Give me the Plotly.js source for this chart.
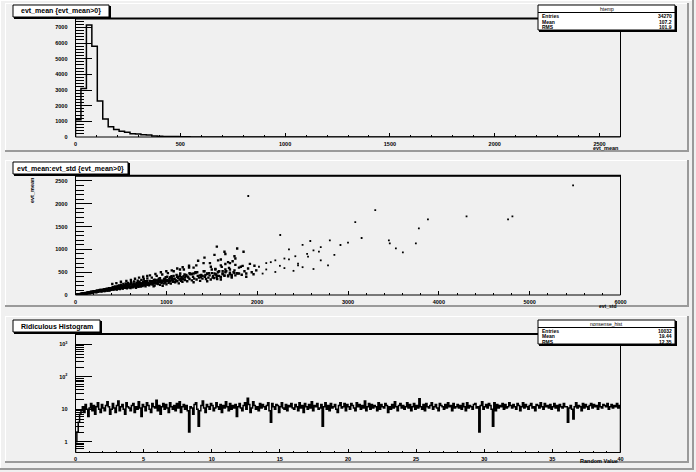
<!DOCTYPE html>
<html><head><meta charset="utf-8">
<script src="https://cdn.plot.ly/plotly-3.0.1.min.js"></script>
<style>html,body{margin:0;padding:0;background:#f0f0f0;} #chart{width:696px;height:472px;}</style>
</head><body><div id="chart"></div>
<script>
// ---------- DATA ----------
// Pad 1: evt_mean histogram (100 bins, 0..2600)
const meanHistLow = 0;
const meanHistWidth = 26;
const meanHistCounts = [1100,3100,7150,5800,2300,1150,650,480,360,300,
  200,190,140,120,70,45,35,30,25,18,
  8,6,5,4,3,2,2,1,1,1,
  0,0,0,0,0,0,0,0,0,0, 0,0,0,0,0,0,0,0,0,0,
  0,0,0,0,0,0,0,0,0,0, 0,0,0,0,0,0,0,0,0,0,
  0,0,0,0,0,0,0,0,0,0, 0,0,0,0,0,0,0,0,0,0,
  0,0,0,0,0,0,0,0,0,0];
const statsLabels = ['Entries','Mean','RMS'];
const meanStatsValues = ['34270','107.2','101.9'];

// Pad 2: evt_mean vs evt_std scatter
const std1 = [8,15,22,27,33,41,46,52,58,63,69,74,81,87,93,98,104,111,117,122,128,135,141,147,152,158,165,171,176,183,189,195,201,208,214,221,227,233,240,246,252,259,266,272,279,285,292,298,305,312,318,325,331,338,345,352,360,368,377,390];
const mean1 = [4,9,6,12,14,11,19,16,24,18,27,22,30,25,38,29,35,44,33,40,52,37,48,58,45,55,62,50,68,57,74,60,66,85,71,79,62,92,75,88,70,101,84,95,110,78,102,90,118,98,125,86,112,130,104,140,96,122,150,115];
const std2 = [402,408,415,421,428,434,441,447,455,461,468,474,481,488,494,501,507,514,520,527,534,540,547,553,560,566,573,580,586,593,600,606,613,619,626,633,639,646,652,659,666,672,679,685,692,699,705,712,718,725,731,738,745,751,758,764,771,778,784,791,797,405,450,500,560,610,655,700,745,790];
const mean2 = [140,118,172,128,155,190,136,165,122,200,148,178,210,131,160,226,152,188,140,240,171,205,158,252,182,146,218,265,168,196,232,155,280,184,214,170,248,296,192,226,160,265,205,312,178,240,290,214,186,330,256,198,228,350,210,275,192,240,300,365,222,240,260,290,310,330,355,380,400,420];
const std3 = [803,810,818,825,833,840,848,856,863,871,878,886,894,901,909,917,924,932,940,947,955,963,970,978,986,993,1001,1009,1017,1025,1033,1041,1049,1057,1065,1073,1081,1089,1097,1105,1113,1121,1129,1137,1145,1153,1161,1169,1177,1185,1193,820,880,940,1000,1060,1120,1180,860,960];
const mean3 = [260,215,310,238,285,380,230,268,330,205,298,250,420,275,240,355,290,225,318,265,450,300,250,340,280,390,232,310,480,270,345,300,250,410,330,290,520,360,280,320,440,300,370,255,340,470,310,390,290,350,560,430,460,500,520,540,580,610,190,200];
const std4 = [1205,1218,1230,1243,1255,1268,1281,1294,1307,1320,1333,1346,1359,1372,1385,1398,1411,1424,1437,1450,1463,1476,1489,1502,1515,1528,1541,1554,1567,1580,1600,1620,1640,1660,1680,1700,1720,1740,1760,1780,1250,1330,1410,1490,1570,1650,1730,1300,1450,1600];
const mean4 = [330,420,300,380,350,460,320,400,360,500,340,420,380,310,440,360,520,400,350,460,380,430,340,480,410,370,450,400,500,420,390,470,430,520,410,460,440,500,430,480,600,650,700,620,760,680,740,280,300,340];
const std5 = [620,140,880,350,45,990,470,260,760,1130,90,580,310,690,420,930,200,1050,520,830,380,160,720,275,640,1180,495,60,905,330,785,230,560,1010,410,120,670,860,295,540,965,180,745,450,1090,85,600,375,815,250,700,1150,130,525,940,345,660,210,1030,480,
  590,875,305,735,1160,155,455,1060,365,805,240,630,985,110,515,700,290,1110,430,850,195,575,920,340,760,1200,470,65,650,390];
const mean5 = [175,52,330,118,15,275,170,95,230,390,22,205,88,260,120,370,70,320,145,300,140,38,200,105,240,360,190,24,260,125,280,60,165,400,155,40,190,250,112,210,310,62,270,130,350,30,180,100,240,80,225,430,46,180,290,98,230,78,300,150,
  220,280,100,245,340,50,160,380,130,260,92,200,345,35,170,190,85,310,142,300,66,185,330,112,300,450,140,18,215,115];
const std6 = [1510,1530,1560,1580,1600,1620,1650,1680,1700,1720,1750,1780,1800,1830,1860,1880,1900,1940,1970,1990,
  1540,1610,1690,1760,1840,1920,1560,1640,1720,1800,1880,1960,1556,1650,1760,1850,
  1300,1350,1420,1480,1530,1600,1640,1700,1750,1780,1150,1250,1600,1680];
const mean6 = [380,470,420,520,395,455,560,430,490,410,540,470,600,445,520,470,580,500,640,540,
  572,616,594,660,638,682,350,420,380,470,400,455,1060,900,800,950,
  600,750,820,700,880,780,950,700,850,1020,560,640,650,720];
const std8 = [260,515,780,1040,330,610,905,1220,420,690,980,1300,205,470,745,1010,1370,300,560,835,1120,1420,380,650,925,1190,1470,245,505,790,1065,1340,440,715,990,1260,1550,285,575,860,1150,1430,355,635,915,1205,1500,225,490,770,1045,1320,405,680,955,1235,1580,315,595,875,1160,1450,
  370,545,725,895,1075,1255,1400,1620,1700,1650,1750,1820,1540,1380,1280,1180,1080,970,870,770,670,570,470,370,270,170];
const mean8 = [90,200,240,380,120,250,300,440,160,215,360,470,80,175,290,330,430,105,230,250,400,520,150,195,340,410,480,72,160,310,350,500,130,260,305,460,450,95,210,270,410,440,125,180,330,380,560,85,190,225,390,480,160,240,290,400,520,110,170,330,360,470,
  110,190,250,320,300,480,420,520,560,500,480,620,560,390,460,350,420,330,280,300,200,230,190,150,110,70];
const std9 = [10,18,26,34,42,50,58,66,74,82,90,98,106,114,122,130,138,146,154,162,170,178,186,194];
const mean9 = [3,7,8,13,12,19,17,24,22,30,27,36,33,40,38,47,42,53,50,58,55,64,60,70];
// sparse high-std points
const stdSparse = [2020,2060,2100,2150,2200,2250,2300,2350,2400,2450,2500,2560,2620,2700,2780,2850,
  2100,2200,2300,2420,2550,2680,2254,2585,2917,3080,3300,2450,2700,2800,3000,3150,1902,2350,2500,2620,
  3450,3460,3527,3604,3747,3780,3880,4305,4762,4810,5478];
const meanSparse = [620,470,560,720,505,640,590,780,530,690,610,840,570,760,650,880,
  700,760,800,850,900,950,1316,1184,1096,1600,1860,650,1050,1200,1150,1250,2171,1000,1100,980,
  1200,1134,1024,936,1134,1462,1660,1725,1660,1725,2405];

// Pad 3: Ridiculous Histogram (400 bins, 0..40)
const randHistLow = 0;
const randHistWidth = 0.1;
const randHistCounts = [
 1,2,4,7,9,12,8,14,10,6,11,15,9,13,7,12,16,10,8,14,11,9,13,17,12,7,10,15,11,8,13,18,9,12,14,10,7,16,12,11,
 9,13,15,8,12,10,17,11,6,14,12,9,16,13,10,8,15,12,11,19,9,13,7,12,15,10,14,11,8,16,12,10,13,9,15,11,17,8,12,14,
 10,13,9,2,12,11,7,14,16,10,3,9,13,18,11,8,14,12,10,15,13,9,11,16,12,10,14,8,13,11,17,12,9,15,10,13,11,14,6,12,
 15,11,9,13,16,10,22,14,8,11,17,13,10,12,9,15,11,14,12,10,13,16,9,4,15,12,10,14,13,8,12,16,11,10,14,9,13,12,15,11,
 10,14,12,9,16,11,13,8,15,12,10,14,11,17,9,13,12,15,10,11,14,3,12,16,10,13,9,15,11,12,14,10,8,13,16,11,12,15,9,14,
 12,10,15,13,11,9,16,12,14,10,13,11,18,9,12,15,10,14,11,13,12,9,16,10,14,12,11,15,13,8,12,10,14,11,17,12,9,13,15,11,
 13,10,12,16,11,14,9,12,15,10,13,11,21,12,10,14,9,15,12,11,13,16,10,12,14,11,9,15,13,12,10,14,11,16,12,13,9,15,11,12,
 14,11,13,10,15,12,9,16,11,13,12,10,14,15,11,12,2,13,17,10,12,14,11,15,13,10,3,16,9,14,11,13,12,15,10,14,11,12,16,13,
 11,14,12,10,15,13,9,12,16,11,14,12,10,13,15,11,12,9,14,13,11,16,12,10,15,12,13,11,14,10,12,15,11,13,9,14,12,11,15,12,
 12,4,11,13,10,5,12,16,11,13,12,9,15,11,14,12,10,13,15,11,14,12,13,10,16,12,11,14,13,12,15,10,12,14,11,13,12,15,11,13];
const randStatsValues = ['10032','19.44','12.35'];
const logTickVals = [1,10,100,1000];
const logTickText = ['1','10','10<sup>2</sup>','10<sup>3</sup>'];

// ---------- DRAWING ----------
const W=696,H=472;
const X=v=>v/W, Y=v=>1-v/H;

function outline(low,width,counts,floor){
  const xs=[low], ys=[floor];
  counts.forEach((c,i)=>{xs.push(low+i*width); ys.push(c);});
  xs.push(low+counts.length*width); ys.push(counts[counts.length-1]);
  xs.push(low+counts.length*width); ys.push(floor);
  return {xs,ys};
}
const h1=outline(meanHistLow,meanHistWidth,meanHistCounts,0);
const h3=outline(randHistLow,randHistWidth,randHistCounts,0.3);

const scX=[].concat(std1,std2,std3,std4,std5,std6,std8,std9);
const scY=[].concat(mean1,mean2,mean3,mean4,mean5,mean6,mean8,mean9);

const traces=[
 {x:h1.xs,y:h1.ys,xaxis:'x',yaxis:'y',mode:'lines',line:{shape:'hv',color:'#000',width:1.5},hoverinfo:'skip'},
 {x:scX,y:scY,xaxis:'x2',yaxis:'y2',mode:'markers',marker:{symbol:'square',size:2.4,color:'#000',line:{width:0}},hoverinfo:'skip'},
 {x:stdSparse,y:meanSparse,xaxis:'x2',yaxis:'y2',mode:'markers',marker:{symbol:'square',size:1.8,color:'#000',line:{width:0}},hoverinfo:'skip'},
 {x:h3.xs,y:h3.ys,xaxis:'x3',yaxis:'y3',mode:'lines',line:{shape:'hv',color:'#000',width:1.5},hoverinfo:'skip'}
];

const FONT='Liberation Sans, Arial, sans-serif';
const tickfont={family:FONT,size:5.5,color:'#000',weight:'bold'};
const small={family:FONT,size:5.5,color:'#000',weight:'bold'};
const frameL=75.5, frameR=620.5;
const frames=[[18.5,137],[175.7,295],[334,452.5]];
function xa(i,range,dtick,minorD){
  return {domain:[X(frameL),X(frameR)],anchor:'y'+(i>1?i:''),range:range,dtick:dtick,tick0:0,
    showgrid:false,zeroline:false,showline:false,ticks:'inside',ticklen:4,tickwidth:1,tickcolor:'#000',
    tickfont:tickfont,ticklabelstandoff:2,fixedrange:true,
    minor:{ticks:'inside',ticklen:2,tickwidth:1,tickcolor:'#000',dtick:minorD,showgrid:false}};
}
function ya(i,range,dtick,minorD){
  return {domain:[Y(frames[i-1][1]),Y(frames[i-1][0])],anchor:'x'+(i>1?i:''),range:range,dtick:dtick,tick0:0,
    showgrid:false,zeroline:false,showline:false,ticks:'inside',ticklen:16,tickwidth:1,tickcolor:'#000',
    tickfont:tickfont,ticklabelstandoff:7,fixedrange:true,
    minor:{ticks:'inside',ticklen:8,tickwidth:1,tickcolor:'#000',dtick:minorD,showgrid:false}};
}
const y3=ya(3,[-0.33,3.32],null,null);
y3.type='log'; delete y3.dtick; delete y3.tick0;
y3.tickmode='array'; y3.tickvals=logTickVals; y3.ticktext=logTickText;
y3.minor={ticks:'inside',ticklen:8,tickwidth:1,tickcolor:'#000',showgrid:false,tickmode:'array',
  tickvals:[0.5,0.6,0.7,0.8,0.9,2,3,4,5,6,7,8,9,20,30,40,50,60,70,80,90,200,300,400,500,600,700,800,900,2000]};

const shapes=[];
const ann=[];
function line(x0,y0,x1,y1,color,w,layer){shapes.push({type:'line',xref:'paper',yref:'paper',x0:X(x0),y0:Y(y0),x1:X(x1),y1:Y(y1),line:{color:color,width:w},layer:layer||'above'});}
function rect(x0,y0,x1,y1,fill,lc,lw,layer){shapes.push({type:'rect',xref:'paper',yref:'paper',x0:X(x0),y0:Y(y0),x1:X(x1),y1:Y(y1),fillcolor:fill,line:{color:lc,width:lw},layer:layer||'above'});}
function text(x,y,t,opt){ann.push(Object.assign({xref:'paper',yref:'paper',x:X(x),y:Y(y),text:t,showarrow:false,
  font:small,xanchor:'center',yanchor:'middle',borderpad:0},opt||{}));}

// canvas bevel
line(0,0.5,694,0.5,'#ffffff',1,'below');
line(0.5,0,0.5,470,'#ffffff',1,'below');
line(693,0,693,470,'#9a9a9a',2,'below');
line(0,469,694,469,'#9a9a9a',2,'below');
// pads
const pads=[[3,151],[160,306],[316,462]];
pads.forEach(p=>{
  rect(5,p[0],689,p[1],'#f0f0f0','rgba(0,0,0,0)',0,'below');
  line(5,p[0]+0.5,689,p[0]+0.5,'#ffffff',1,'below');
  line(5.5,p[0],5.5,p[1],'#ffffff',1,'below');
  line(688,p[0],688,p[1]+1,'#9a9a9a',2,'below');
  line(5,p[1],689,p[1],'#9a9a9a',2,'below');
});
// frames
frames.forEach(f=>{
  rect(frameL,f[0],frameR,f[1],'rgba(0,0,0,0)','#000',1);
  line(frameL-0.5,f[0],frameR+0.5,f[0],'#000',2);
});
// title boxes
function pave(x0,y0,x1,y1,t){
  rect(x0,y0,x1,y1,'#ffffff','#000',1);
  line(x0+1,y1+1,x1+1,y1+1,'#000',2);
  line(x1+1,y0+1,x1+1,y1+2,'#000',2);
  text((x0+x1)/2,(y0+y1)/2+0.5,t,{font:{family:FONT,size:7,color:'#000',weight:'bold'}});
}
pave(13,5,109,17,'evt_mean {evt_mean>0}');
pave(13,162,128,174,'evt_mean:evt_std {evt_mean>0}');
pave(13,320,100,332,'Ridiculous Histogram');
// stats boxes
function stats(y0,y1,name,vals){
  rect(538,y0,675,y1,'#ffffff','#000',1);
  line(539,y1+1,676,y1+1,'#000',2);
  line(676,y0+1,676,y1+2,'#000',2);
  const sep=y0+7.5;
  line(538,sep,675,sep,'#000',1);
  text(606.5,y0+3.9,name,{font:{family:FONT,size:5,color:'#000'}});
  const step=(y1-sep)/3;
  statsLabels.forEach((l,i)=>{
    const yy=sep+step*(i+0.5)+0.3;
    text(541,yy,l,{xanchor:'left',font:{family:FONT,size:5,color:'#000',weight:'bold'}});
    text(673,yy,vals[i],{xanchor:'right',font:{family:FONT,size:5,color:'#000',weight:'bold'}});
  });
}
stats(5,30,'htemp',meanStatsValues);
stats(320,344,'nonsense_hist',randStatsValues);
// axis titles
text(620,147.5,'evt_mean',{xanchor:'right'});
text(618,305.5,'evt_std',{xanchor:'right',font:{family:FONT,size:5,color:'#000',weight:'bold'}});
text(619,461,'Random Value',{xanchor:'right'});
text(32,176,'evt_mean',{textangle:-90,yanchor:'top'});

const layout={width:W,height:H,margin:{l:0,r:0,t:0,b:0},paper_bgcolor:'#f0f0f0',plot_bgcolor:'rgba(0,0,0,0)',
  showlegend:false,
  xaxis:xa(1,[0,2600],500,100), yaxis:ya(1,[0,7570],1000,200),
  xaxis2:xa(2,[0,6000],1000,200), yaxis2:ya(2,[0,2616],500,100),
  xaxis3:xa(3,[0,40],5,1), yaxis3:y3,
  shapes:shapes, annotations:ann};
Plotly.newPlot('chart',traces,layout,{staticPlot:true,displayModeBar:false});
</script></body></html>
